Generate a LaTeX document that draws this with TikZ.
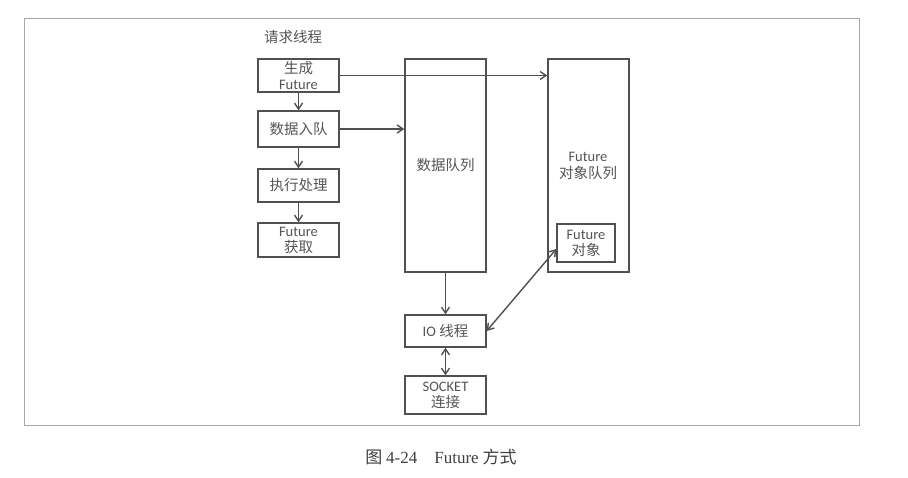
\documentclass[tikz,border=0pt]{standalone}
\usepackage{fontspec}
\setmainfont{Carlito}
\newfontfamily\cjk{Noto Sans CJK SC}
\newfontfamily\capserif{Liberation Serif}
\usetikzlibrary{arrows.meta}
\definecolor{inkline}{HTML}{505050}
\definecolor{inktext}{HTML}{555555}
\definecolor{framegray}{HTML}{A8A8A8}
\tikzset{
  box/.style={draw=inkline, line width=1.3pt, minimum width=81pt, inner sep=0pt,
    align=center, text=inktext, font=\fontsize{14.5}{16}\selectfont},
  lbl/.style={inner sep=0pt, align=center, text=inktext, font=\fontsize{14.5}{17}\selectfont},
  arr/.style={draw=inkline, line width=1.4pt, -{Straight Barb[length=6pt,width=8pt]}},
  darr/.style={draw=inkline, line width=1.4pt, {Straight Barb[length=6pt,width=8pt]}-{Straight Barb[length=6pt,width=8pt]}}
}
\begin{document}
\begin{tikzpicture}[x=1pt, y=-1pt]
  \useasboundingbox (0,0) rectangle (908,478);
  \fill[white] (0,0) rectangle (908,478);
  % outer frame
  \draw[framegray, line width=1pt] (24,19) rectangle (859,425);

  % request thread column
  \node[lbl] (title) at (293,37) {\cjk 请求线程};
  \node[box, minimum height=33pt] (gen) at (298.5,75.5) {{\cjk 生成}\\Future};
  \node[box, minimum height=36pt] (enq) at (298.5,129) {\cjk 数据入队};
  \node[box, minimum height=33pt] (exec) at (298.5,185.5) {\cjk 执行处理};
  \node[box, minimum height=34pt] (fget) at (298.5,240) {Future\\{\cjk 获取}};

  % queues
  \node[box, minimum height=213pt] (dq) at (445.5,165.5) {\cjk 数据队列};
  \node[box, minimum height=213pt] (fq) at (588.5,165.5) {};
  \node[lbl] (fqlabel) at (588,166) {Future\\{\cjk 对象队列}};
  \node[box, minimum width=58pt, minimum height=38pt] (fobj) at (586,243) {Future\\{\cjk 对象}};

  % IO thread and socket
  \node[box, minimum height=32pt] (io) at (445.5,331) {IO {\cjk 线程}};
  \node[box, minimum height=38pt] (sock) at (445.5,395) {SOCKET\\{\cjk 连接}};

  % connectors
  \draw[arr] (gen) -- (enq);
  \draw[arr] (enq) -- (exec);
  \draw[arr] (exec) -- (fget);
  \draw[arr] (gen.east) -- (gen.east -| fq.west);
  \draw[arr] (enq.east) -- (enq.east -| dq.west);
  \draw[arr] (dq.south) -- (io.north);
  \draw[darr] (io.south) -- (sock.north);
  \coordinate (fobjin) at ([yshift=-6pt]fobj.west);
  \draw[darr] (io.east) -- (fobjin);

  % caption
  \node[inner sep=0pt, text=black!75, font=\fontsize{17}{20}\selectfont] (caption) at (441,457)
    {{\cjk 图} {\capserif 4-24\quad Future} {\cjk 方式}};
\end{tikzpicture}
\end{document}
